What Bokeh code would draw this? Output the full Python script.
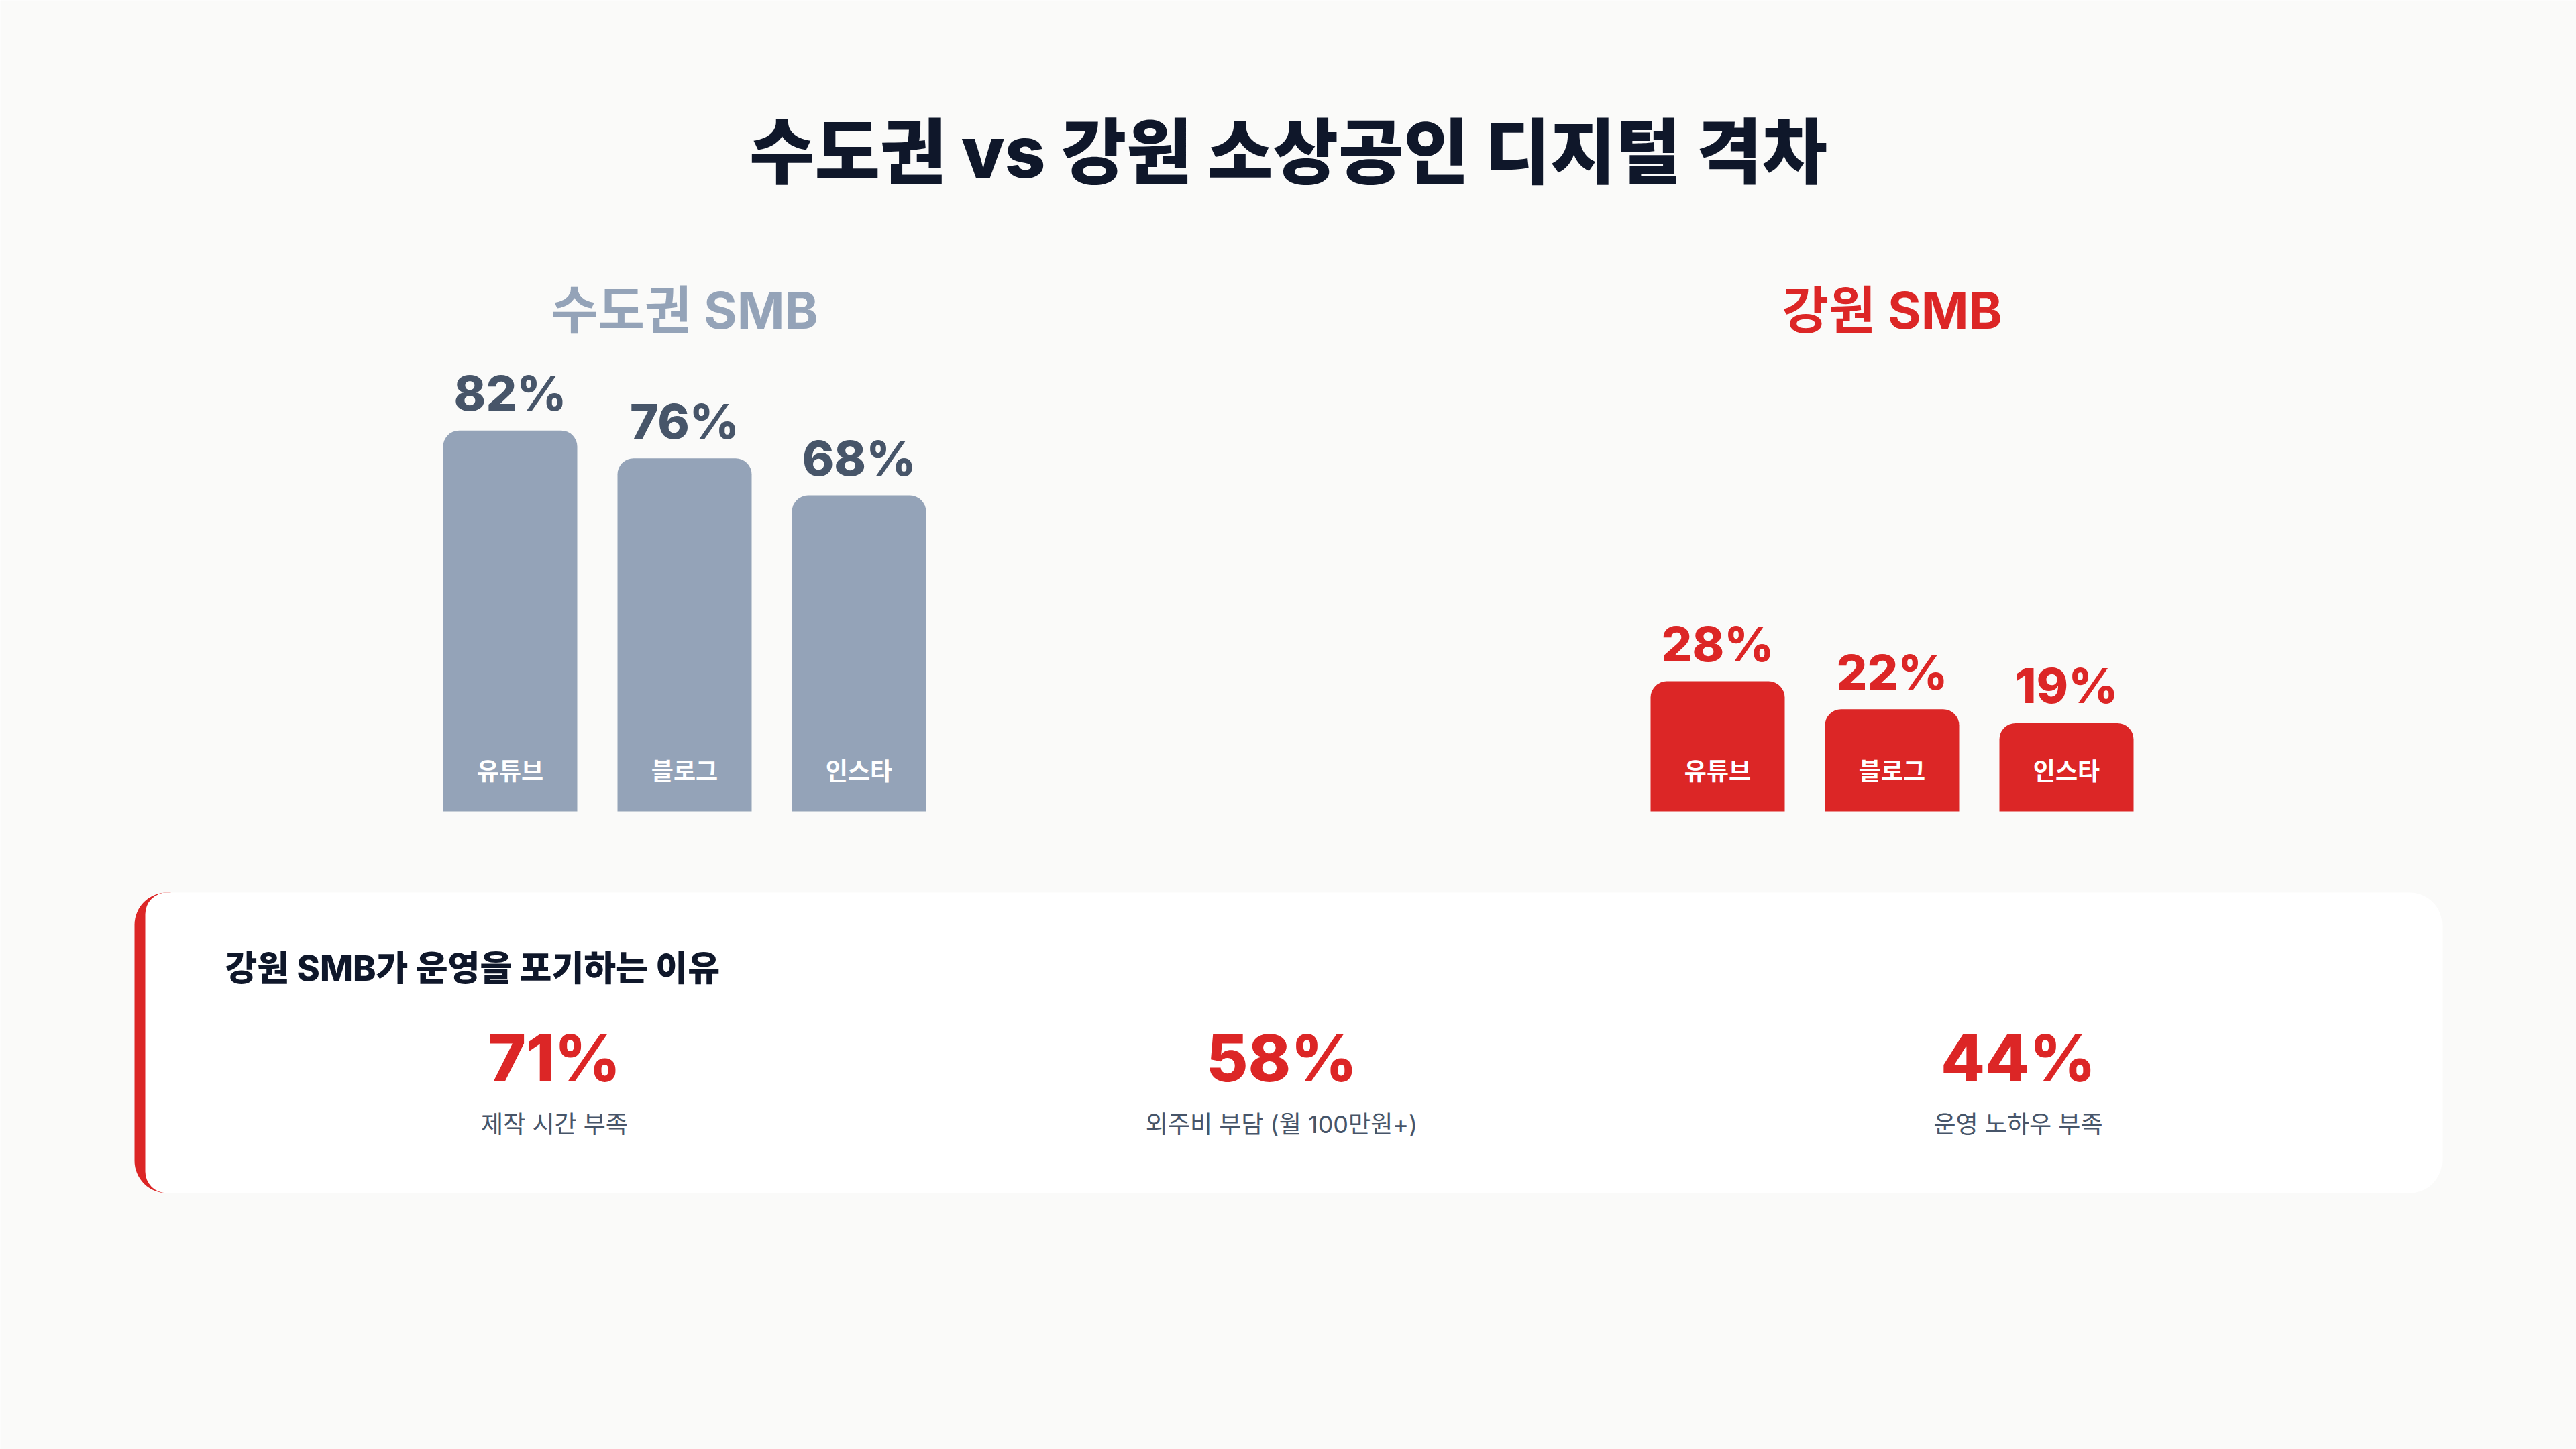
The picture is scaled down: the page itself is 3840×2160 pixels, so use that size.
from bokeh.plotting import figure
from bokeh.models import Range1d, ColumnDataSource
from bokeh.core.properties import value
from bokeh.embed import file_html
from bokeh.resources import INLINE

# ---- data ----
platforms = ["유튜브", "블로그", "인스타"]
metro_pct = [82, 76, 68]
gangwon_pct = [28, 22, 19]
group_titles = ["수도권 SMB", "강원 SMB"]
reason_labels = ["제작 시간 부족", "외주비 부담 (월 100만원+)", "운영 노하우 부족"]
reason_pct = [71, 58, 44]
main_title = "수도권 vs 강원 소상공인 디지털 격차"
card_title = "강원 SMB가 운영을 포기하는 이유"

# ---- style / layout ----
W, H = 3840, 2160
BG = "#fafaf9"
INK = "#0f172a"
SLATE = "#94a3b8"
SLATE_DARK = "#475569"
RED = "#dc2626"
HEAVY = value("'Inter ExtraBold', Inter, 'Noto Sans CJK KR Black', 'Noto Sans CJK KR'")
HEAVY_NUM = value("'Inter ExtraBold', Inter")
MIXED = value("Inter, 'Noto Sans CJK KR'")
HANGUL = value("Noto Sans CJK KR")

BASE_Y = 1209          # bar baseline, px from top
PX_PER_PCT = 6.925     # bar scale
BAR_W = 200
BAR_STEP = 260
GROUP_X = [1020, 2820]
STAT_X = [826, 1910, 3008]


def Y(px_from_top):
    return H - px_from_top


p = figure(width=W, height=H, x_range=Range1d(0, W), y_range=Range1d(0, H),
           output_backend="svg", toolbar_location=None, min_border=0)
p.xaxis.visible = False
p.yaxis.visible = False
p.grid.visible = False
p.outline_line_color = None
p.background_fill_color = BG
p.border_fill_color = BG

# percentage scale for the bars, zero at the baseline
p.extra_y_ranges = {"pct": Range1d(-(H - BASE_Y) / PX_PER_PCT, BASE_Y / PX_PER_PCT)}

# ---- title ----
p.text(x=[W / 2], y=[Y(226)], text=[main_title], text_font=HEAVY,
       text_font_size="106px", text_font_style="bold", text_color=INK,
       text_align="center", text_baseline="middle")

# ---- two bar groups ----
groups = [(metro_pct, SLATE, SLATE_DARK, SLATE), (gangwon_pct, RED, RED, RED)]
for gi, (vals, bar_color, val_color, title_color) in enumerate(groups):
    cx = GROUP_X[gi]
    xs = [cx + (i - 1) * BAR_STEP for i in range(len(vals))]
    src = ColumnDataSource(dict(
        x=xs, top=vals, name=platforms,
        lab=[f"{v}%" for v in vals],
    ))
    p.vbar(x="x", top="top", bottom=0, width=BAR_W, source=src,
           y_range_name="pct", fill_color=bar_color, line_color=None,
           border_radius=(24, 24, 0, 0))
    p.text(x="x", y="top", text="lab", source=src, y_range_name="pct",
           y_offset=-56, text_font=HEAVY_NUM, text_font_size="72px",
           text_font_style="bold", text_color=val_color,
           text_align="center", text_baseline="middle")
    p.text(x="x", y=Y(1146), text="name", source=src, text_font=HANGUL,
           text_font_size="36px", text_font_style="bold", text_color="white",
           text_align="center", text_baseline="middle")
    p.text(x=[cx], y=[Y(461)], text=[group_titles[gi]], text_font=MIXED,
           text_font_size="76px", text_font_style="bold", text_color=title_color,
           text_align="center", text_baseline="middle")

# ---- reasons card: red left edge, white body ----
card_l, card_r, card_t, card_b = 200, 3640, 1330, 1778
p.quad(left=card_l, right=card_l + 54, top=Y(card_t), bottom=Y(card_b),
       fill_color=RED, line_color=None, border_radius=(48, 0, 0, 48))
p.quad(left=card_l + 16, right=card_r, top=Y(card_t), bottom=Y(card_b),
       fill_color="white", line_color=None, border_radius=(32, 48, 48, 32))

p.text(x=[335], y=[Y(1443)], text=[card_title], text_font=HEAVY,
       text_font_size="52px", text_font_style="bold", text_color=INK,
       text_align="left", text_baseline="middle")

stat_src = ColumnDataSource(dict(
    x=STAT_X,
    val=[f"{v}%" for v in reason_pct],
    lab=reason_labels,
))
p.text(x="x", y=Y(1576), text="val", source=stat_src, text_font=HEAVY_NUM,
       text_font_size="96px", text_font_style="bold", text_color=RED,
       text_align="center", text_baseline="middle")
p.text(x="x", y=Y(1675), text="lab", source=stat_src, text_font=MIXED,
       text_font_size="36px", text_color=SLATE_DARK,
       text_align="center", text_baseline="middle")

open("out.html", "w").write(file_html(p, INLINE))
